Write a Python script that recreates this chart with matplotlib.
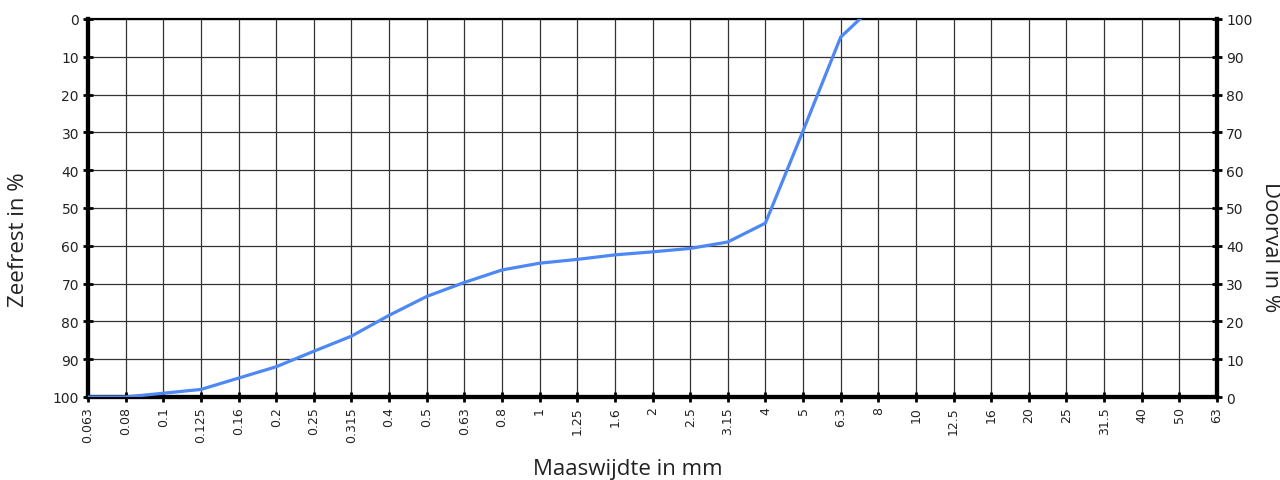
import matplotlib
matplotlib.use('Agg')
import matplotlib.pyplot as plt

# zeefmaten (mm) en doorval in %
zeven = ['0.063', '0.08', '0.1', '0.125', '0.16', '0.2', '0.25', '0.315', '0.4', '0.5',
         '0.63', '0.8', '1', '1.25', '1.6', '2', '2.5', '3.15', '4', '5',
         '6.3', '8', '10', '12.5', '16', '20', '25', '31.5', '40', '50', '63']
doorval = [0, 0, 1.0, 2.0, 5.0, 8.0, 12.1, 16.1, 21.6, 26.6,
           30.3, 33.6, 35.4, 36.4, 37.6, 38.4, 39.3, 41.0, 46.0, 70.4,
           95.2, 104.6]
yticks = [0, 10, 20, 30, 40, 50, 60, 70, 80, 90, 100]

fig = plt.figure(figsize=(12.8, 4.81), dpi=100)
ax = fig.add_axes([88/1280, 1 - 398/481, (1217-88)/1280, (398-20)/481])
ax2 = ax.twinx()

pos = list(range(len(zeven)))
ax.set_xlim(0, len(zeven) - 1)
ax.set_ylim(100, 0)
ax2.set_ylim(0, 100)

for p in pos:
    ax.axvline(p, color='#333333', lw=0.9, zorder=1)
for v in yticks:
    ax.axhline(v, color='#333333', lw=0.9, zorder=1)

ax2.plot(pos[:len(doorval)], doorval, color='#4d88f5', lw=2.3, zorder=3)

ax.set_xticks(pos)
ax.set_xticklabels(zeven, rotation=90, fontsize=9, color='#222222')
ax.set_yticks(yticks)
ax.set_yticklabels([str(v) for v in yticks], fontsize=10, color='#222222')
ax2.set_yticks(yticks)
ax2.set_yticklabels([str(v) for v in yticks], fontsize=10, color='#222222')

ax.tick_params(axis='both', direction='inout', length=7, width=2, pad=3)
ax2.tick_params(axis='y', direction='inout', length=7, width=2, pad=3)

for a in (ax, ax2):
    a.spines['left'].set_linewidth(3)
    a.spines['right'].set_linewidth(3)
    a.spines['bottom'].set_linewidth(3)
    a.spines['top'].set_linewidth(1.5)

lab = dict(fontsize=16, family='Open Sans', color='#222222', va='center', ha='center')
ax.set_xlabel('Maaswijdte in mm', **lab)
ax.xaxis.set_label_coords(0.478, -0.19)
ax.set_ylabel('Zeefrest in %', **lab)
ax.yaxis.set_label_coords(-0.062, 0.42)
ax2.set_ylabel('Doorval in %', rotation=270, **lab)
ax2.yaxis.set_label_coords(1.047, 0.40)

fig.savefig('out.png', dpi=100)
